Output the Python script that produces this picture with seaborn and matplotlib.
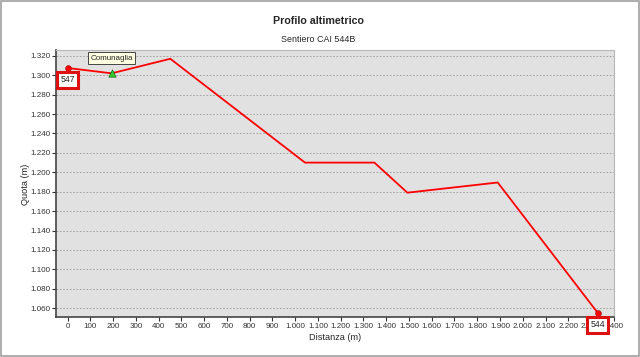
import matplotlib
matplotlib.use("Agg")
import matplotlib.pyplot as plt
import matplotlib.ticker as mticker
from matplotlib.patches import Rectangle
import pandas as pd
import seaborn as sns

# profilo del sentiero (distanza in m, quota in m)
distanza = [0, 193, 451, 1043, 1348, 1493, 1890, 2330]
quota = [1307.5, 1302, 1317, 1210, 1210, 1179, 1189.5, 1055]

# punti notevoli
waypoint_nome = ["Comunaglia"]
waypoint_x = [193]
waypoint_y = [1302]
estremi_x = [0, 2330]
estremi_y = [1307.5, 1055]
estremi_lbl = ["547", "544"]

df = pd.DataFrame({"Distanza": distanza, "Quota": quota})

sns.set_style("ticks")
plt.rcParams["font.family"] = ["Liberation Sans", "DejaVu Sans"]

fig = plt.figure(figsize=(6.4, 3.57), dpi=100)
ax = fig.add_axes([0.088, 0.111, 0.871, 0.748])
ax.set_facecolor("#e1e1e1")

sns.lineplot(data=df, x="Distanza", y="Quota", sort=False, color="red", lw=1.3, ax=ax, zorder=3)
sns.scatterplot(x=estremi_x, y=estremi_y, color="red", edgecolor="#800000", s=18, ax=ax, zorder=4)
sns.scatterplot(x=waypoint_x, y=waypoint_y, marker="^", color="#33cc33", edgecolor="#005500",
                s=28, ax=ax, zorder=4)

ax.set_xlim(-50, 2400)
ax.set_ylim(1050.5, 1325.7)
ax.xaxis.set_major_locator(mticker.MultipleLocator(100))
ax.yaxis.set_major_locator(mticker.MultipleLocator(20))
fmt = mticker.FuncFormatter(lambda v, p: f"{int(round(v)):,}".replace(",", "."))
ax.xaxis.set_major_formatter(fmt)
ax.yaxis.set_major_formatter(fmt)
ax.tick_params(labelsize=5.8, length=2.6, width=0.8, colors="#333333", pad=1.5)
ax.grid(axis="y", ls=(0, (2, 2)), color="#9a9a9a", lw=0.6)
ax.grid(axis="x", visible=False)
for s in ["top", "right"]:
    ax.spines[s].set_color("#b8b8b8")
    ax.spines[s].set_linewidth(0.8)
for s in ["left", "bottom"]:
    ax.spines[s].set_color("#444444")
    ax.spines[s].set_linewidth(1.2)

ax.set_xlabel("Distanza (m)", fontsize=6.6, labelpad=2)
ax.set_ylabel("")
fig.text(25 / 640, 1 - 184 / 357, "Quota (m)", rotation=90, fontsize=6.6, ha="center", va="center")

fig.text(0.497, 1 - 21 / 357, "Profilo altimetrico", fontsize=7.7, fontweight="bold", ha="center", va="center")
fig.text(0.497, 1 - 40 / 357, "Sentiero CAI 544B", fontsize=6.4, ha="center", va="center")

# etichette degli estremi
for x, y, t in zip(estremi_x, estremi_y, estremi_lbl):
    ax.annotate(t, (x, y), xytext=(0, -8.6), textcoords="offset points", ha="center", va="center",
                fontsize=6.3, annotation_clip=False, zorder=6,
                bbox=dict(boxstyle="square,pad=0.35", fc="white", ec="#dd1111", lw=2.2))

for n, x, y in zip(waypoint_nome, waypoint_x, waypoint_y):
    ax.annotate(n, (x, y), xytext=(0, 11), textcoords="offset points", ha="center", va="center",
                fontsize=5.8, zorder=6,
                bbox=dict(boxstyle="square,pad=0.3", fc="#ffffe1", ec="#444444", lw=0.7))

fig.patches.append(Rectangle((0.001, 0.002), 0.997, 0.996, transform=fig.transFigure,
                             fill=False, ec="#a0a0a0", lw=1.2))

fig.savefig("out.png", dpi=100)
